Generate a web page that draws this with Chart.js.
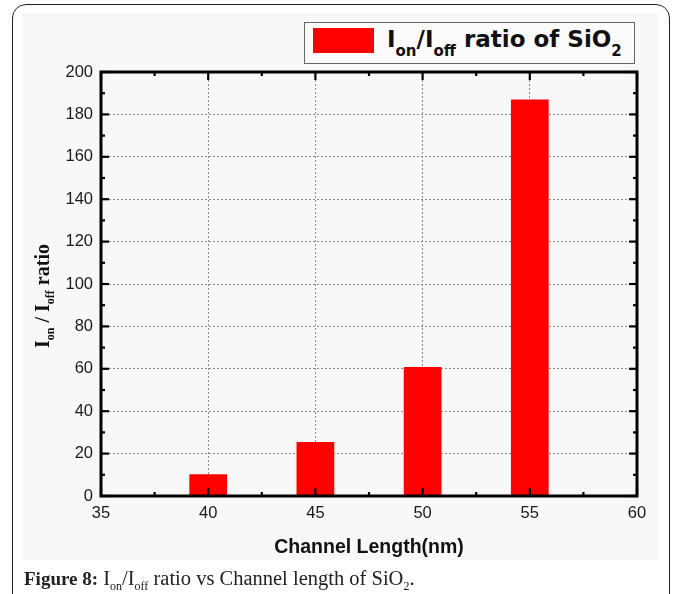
<!DOCTYPE html>
<html>
<head>
<meta charset="utf-8">
<script src="https://cdn.jsdelivr.net/npm/chart.js@4.4.0/dist/chart.umd.min.js"></script>
<style>
  html, body { margin: 0; padding: 0; background: #fff; width: 673px; height: 594px; overflow: hidden; }
  #frame { position: absolute; left: 12px; top: 4px; width: 658px; height: 640px; border: 1.5px solid #222; border-radius: 14px; box-sizing: border-box; }
  #panel { position: absolute; left: 23px; top: 13px; width: 635px; height: 547px; background: #f8f8f8; }
  #chart { position: absolute; left: 0; top: 0; }
  #legend { position: absolute; left: 304px; top: 22px; width: 331px; height: 42px; box-sizing: border-box; border: 1.5px solid #666; background: #fcfcfc; }
  #swatch { position: absolute; left: 8px; top: 5px; width: 61px; height: 25px; background: #ff0000; }
  #legtext { position: absolute; left: 82px; top: 2px; white-space: nowrap; font-family: "DejaVu Sans", "Liberation Sans", sans-serif; font-weight: bold; font-size: 23px; line-height: 28px; color: #111; }
  #legtext .sb { font-size: 15px; position: relative; top: 9px; }
  #ytitle { position: absolute; left: 43px; top: 296px; transform: translate(-50%, -50%) rotate(-90deg); white-space: nowrap; font-family: "Liberation Serif", serif; font-weight: bold; font-size: 20px; line-height: 24px; color: #111; }
  #ytitle .sb { font-size: 12px; position: relative; top: 5px; }
  #caption { position: absolute; left: 24px; top: 567px; white-space: nowrap; font-family: "Liberation Serif", serif; font-size: 20.5px; line-height: 22px; color: #222; }
  #caption b { font-size: 19px; }
  #caption .sb { font-size: 12px; position: relative; top: 5px; }
</style>
</head>
<body>
<div id="panel"></div>
<canvas id="chart" width="673" height="594"></canvas>
<div id="legend"><div id="swatch"></div><div id="legtext">I<span class="sb">on</span>/I<span class="sb">off</span> ratio of SiO<span class="sb">2</span></div></div>
<div id="ytitle">I<span class="sb">on</span> / I<span class="sb">off</span> ratio</div>
<div id="frame"></div>
<div id="caption"><b>Figure 8:</b> I<span class="sb">on</span>/I<span class="sb">off</span> ratio vs Channel length of SiO<span class="sb">2</span>.</div>
<script>
const channelLengths = [40, 45, 50, 55];
const onOffRatios = [10.3, 25.5, 60.8, 187];
const xTicks = [35, 40, 45, 50, 55, 60];
const yTicks = [0, 20, 40, 60, 80, 100, 120, 140, 160, 180, 200];
const xTitle = 'Channel Length(nm)';

const framePlugin = {
  id: 'frameTicks',
  afterDatasetsDraw(chart) {
    const { ctx, chartArea: a, scales: { x, y } } = chart;
    const line = (x1, y1, x2, y2) => { ctx.beginPath(); ctx.moveTo(x1, y1); ctx.lineTo(x2, y2); ctx.stroke(); };
    ctx.save();
    ctx.strokeStyle = '#000';
    ctx.lineWidth = 2.2;
    const major = 8, minor = 4;
    xTicks.forEach((v, i) => {
      const px = x.getPixelForValue(v);
      line(px, a.bottom, px, a.bottom - major);
      line(px, a.top, px, a.top + major);
      if (i < xTicks.length - 1) {
        const pm = x.getPixelForValue((v + xTicks[i + 1]) / 2);
        line(pm, a.bottom, pm, a.bottom - minor);
        line(pm, a.top, pm, a.top + minor);
      }
    });
    yTicks.forEach((v, i) => {
      const py = y.getPixelForValue(v);
      line(a.left, py, a.left + major, py);
      line(a.right, py, a.right - major, py);
      if (i < yTicks.length - 1) {
        const pm = y.getPixelForValue((v + yTicks[i + 1]) / 2);
        line(a.left, pm, a.left + minor, pm);
        line(a.right, pm, a.right - minor, pm);
      }
    });
    ctx.lineWidth = 3;
    ctx.strokeRect(a.left, a.top, a.right - a.left, a.bottom - a.top);
    ctx.restore();
  }
};

const gridOpts = { color: '#8a8a8a', lineWidth: 1, drawTicks: false, offset: false };
const tickFont = { family: 'Liberation Sans, Arial, sans-serif', size: 16.5 };

new Chart(document.getElementById('chart'), {
  type: 'bar',
  data: {
    datasets: [{
      label: 'Ion/Ioff ratio of SiO2',
      data: channelLengths.map((c, i) => ({ x: c, y: onOffRatios[i] })),
      backgroundColor: '#ff0000',
      borderWidth: 0,
      barPercentage: 0.352,
      categoryPercentage: 1
    }]
  },
  options: {
    responsive: false,
    animation: false,
    devicePixelRatio: 1,
    layout: { padding: { left: 0, top: 72, right: 36, bottom: 34 } },
    plugins: { legend: { display: false }, tooltip: { enabled: false } },
    scales: {
      x: {
        type: 'linear', min: 35, max: 60, offset: false,
        grid: gridOpts,
        border: { display: false, dash: [2, 2] },
        afterBuildTicks: s => { s.ticks = xTicks.map(v => ({ value: v })); },
        afterFit: s => { s.height = 64; },
        ticks: { color: '#1a1a1a', font: tickFont, padding: 8, maxRotation: 0, autoSkip: false },
        title: { display: true, text: xTitle, color: '#111', font: { family: 'Liberation Sans, Arial, sans-serif', size: 19.5, weight: 'bold' }, padding: { top: 0, bottom: 1 } }
      },
      y: {
        type: 'linear', min: 0, max: 200,
        grid: gridOpts,
        border: { display: false, dash: [2, 2] },
        afterBuildTicks: s => { s.ticks = yTicks.map(v => ({ value: v })); },
        afterFit: s => { s.width = 101; },
        ticks: { color: '#1a1a1a', font: tickFont, padding: 8, autoSkip: false }
      }
    }
  },
  plugins: [framePlugin]
});
</script>
</body>
</html>
